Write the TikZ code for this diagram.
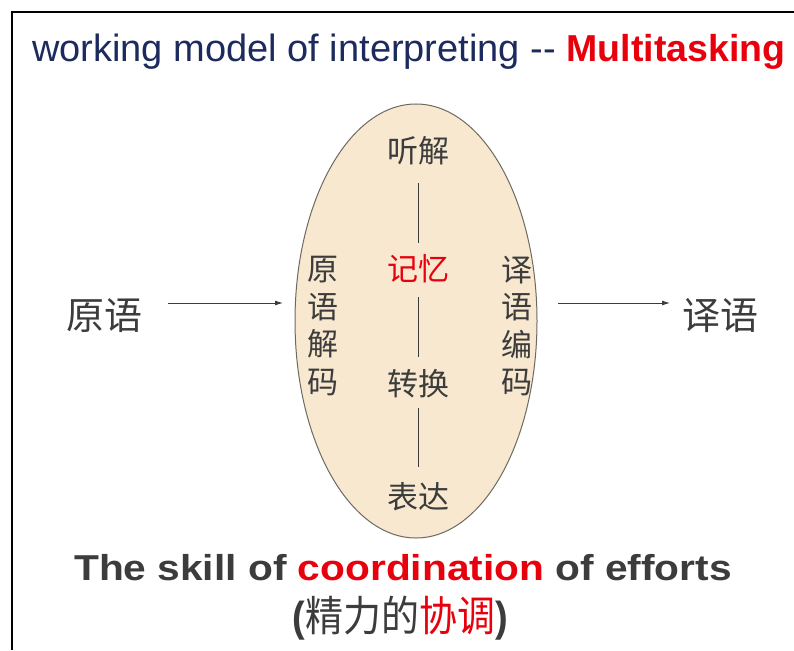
\documentclass[tikz,border=0pt]{standalone}
\usepackage{fontspec}
\setmainfont{Liberation Sans}
\newfontfamily\cjk{Noto Sans CJK SC}
\usetikzlibrary{shapes.geometric,arrows.meta}
\definecolor{navy}{HTML}{1C2A5E}
\definecolor{redx}{HTML}{E8000C}
\definecolor{txtgray}{HTML}{3C3C3C}
\definecolor{beige}{HTML}{F7E8CF}
\definecolor{edgegray}{HTML}{6E6A62}
\tikzset{
  frameline/.style={black,line width=2pt},
  zh/.style={font=\cjk\fontsize{31}{31}\selectfont,text=txtgray,inner sep=0pt},
  zhbig/.style={font=\cjk\fontsize{38}{38}\selectfont,text=txtgray,inner sep=0pt},
  zhcol/.style={font=\cjk\fontsize{31}{37.5}\selectfont,text=txtgray,inner sep=0pt,align=center},
  arr/.style={-{Latex[length=8pt,width=5pt]},line width=0.9pt,draw=txtgray},
  vline/.style={line width=0.8pt,draw=txtgray},
  oval/.style={ellipse,draw=edgegray,fill=beige,line width=1pt,minimum width=242pt,minimum height=434pt,inner sep=0pt}
}
\begin{document}
\begin{tikzpicture}[x=1pt,y=-1pt]
\useasboundingbox (0,0) rectangle (794,650);
\fill[white] (0,0) rectangle (794,650);
% frame
\coordinate (f1) at (12,650);
\coordinate (f2) at (12,12);
\coordinate (f3) at (794,12);
\draw[frameline] (f1) -- (f2) -- (f3);
% title
\node[anchor=base west,inner sep=0pt] (title) at (32,62)
  {\fontsize{38}{40}\selectfont\color{navy}working model of interpreting -{}- \textbf{\color{redx}\fontsize{37.5}{40}\selectfont Multitasking}};
% ellipse
\node[oval] (ell) at (416,321) {};
\node[zh] (tj) at (418,151) {听解};
\node[zh,text=redx] (jy) at (418,269) {记忆};
\node[zh] (zh) at (418,384) {转换};
\node[zh] (bd) at (418,497) {表达};
\node[zhcol] (ly) at (323,326) {原\\语\\解\\码};
\node[zhcol] (yy) at (517,326) {译\\语\\编\\码};
\coordinate (l1a) at (418,183); \coordinate (l1b) at (418,243);
\coordinate (l2a) at (418,297); \coordinate (l2b) at (418,357);
\coordinate (l3a) at (418,408); \coordinate (l3b) at (418,467);
\draw[vline] (l1a) -- (l1b);
\draw[vline] (l2a) -- (l2b);
\draw[vline] (l3a) -- (l3b);
% source and target
\node[zhbig] (src) at (104,316) {原语};
\node[zhbig] (tgt) at (720,316) {译语};
\coordinate (a1) at (168,303); \coordinate (a2) at (283,303);
\coordinate (b1) at (558,303); \coordinate (b2) at (670,303);
\draw[arr] (a1) -- (a2);
\draw[arr] (b1) -- (b2);
% bottom text
\node[anchor=base,inner sep=0pt,text=txtgray] (skill) at (403,580)
  {\scalebox{1.13}[1]{\fontsize{36}{38}\selectfont\bfseries The skill of {\color{redx}coordination} of efforts}};
\node[anchor=center,inner sep=0pt,text=txtgray] (xt) at (400,618)
  {\scalebox{0.95}[1.05]{\fontsize{40}{42}\selectfont\bfseries (\cjk\mdseries 精力的{\color{redx}协调}\rmfamily\bfseries)}};
\end{tikzpicture}
\end{document}
